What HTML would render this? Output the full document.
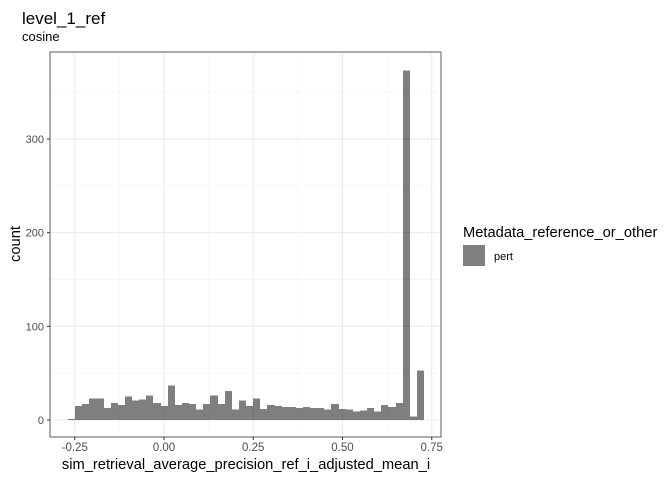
<!DOCTYPE html>
<html><head><meta charset="utf-8"><style>
body{margin:0;background:#fff;font-family:"Liberation Sans",Arial,sans-serif}
</style></head><body>
<svg width="672" height="480" font-family="Liberation Sans, Arial, sans-serif">
<text x="22" y="24" font-size="17" fill="#000">level_1_ref</text>
<text x="22" y="41" font-size="13" fill="#000">cosine</text>
<g id="grid"></g>
<g id="bars" shape-rendering="crispEdges"></g>
<rect x="50" y="52" width="391" height="385" fill="none" stroke="#333" stroke-width="0.8"/>
<g id="axes"></g>
<text x="246" y="469" font-size="14.7" text-anchor="middle" fill="#000">sim_retrieval_average_precision_ref_i_adjusted_mean_i</text>
<text transform="translate(20,244) rotate(-90)" font-size="14.7" text-anchor="middle" fill="#000">count</text>
<text x="463" y="237" font-size="14.7" fill="#000">Metadata_reference_or_other</text>
<rect x="463" y="245" width="22" height="21" fill="#808080"/>
<text x="494" y="260" font-size="11" fill="#000">pert</text>
</svg>
<script>
const binStart = -0.269;
const binWidth = 0.01995;
const counts = [1,15,17,23,23,13,18,16,25,21,22,26,18,15,37,16,18,17,11,17,26,17,31,11,21,15,23,12,16,15,14,14,13,14,13,13,11,17,12,11,9,10,13,9,16,14,18,373,4,53];
const xTicks = [-0.25,0,0.25,0.5,0.75];
const xTickLabels = ["-0.25","0.00","0.25","0.50","0.75"];
const yTicks = [0,100,200,300];
const yTickLabels = ["0","100","200","300"];
const NS="http://www.w3.org/2000/svg";
const X = v => 164 + (v-0)*357;
const Y = v => 420 - v*0.9365;
function mk(tag,attrs,parent){const e=document.createElementNS(NS,tag);for(const k in attrs)e.setAttribute(k,attrs[k]);document.getElementById(parent).appendChild(e);return e;}
for(let i=0;i<xTicks.length-1;i++){const m=(xTicks[i]+xTicks[i+1])/2;const l=mk('line',{x1:X(m),x2:X(m),y1:52,y2:437,stroke:'#f2f2f2','stroke-width':0.6},'grid');

}
for(let i=0;i<yTicks.length;i++){const m=yTicks[i]+50;const l=mk('line',{x1:50,x2:441,y1:Y(m),y2:Y(m),stroke:'#f2f2f2','stroke-width':0.6},'grid');

}
xTicks.forEach((t,i)=>{const l=mk('line',{x1:X(t),x2:X(t),y1:52,y2:437,stroke:'#ebebeb','stroke-width':1.1},'grid');


const tk=mk('line',{x1:X(t),x2:X(t),y1:437,y2:440,stroke:'#333'},'axes');


const tx=mk('text',{x:X(t),y:451,'font-size':11.5,'text-anchor':'middle',fill:'#4d4d4d'},'axes');tx.textContent=xTickLabels[i];

});
yTicks.forEach((t,i)=>{const l=mk('line',{x1:50,x2:441,y1:Y(t),y2:Y(t),stroke:'#ebebeb','stroke-width':1.1},'grid');


const tk=mk('line',{x1:47,x2:50,y1:Y(t),y2:Y(t),stroke:'#333'},'axes');


const tx=mk('text',{x:44,y:Y(t)+4,'font-size':11,'text-anchor':'end',fill:'#4d4d4d'},'axes');tx.textContent=yTickLabels[i];

});
counts.forEach((c,i)=>{const x0=X(binStart+i*binWidth),x1=X(binStart+(i+1)*binWidth);
const r=mk('rect',{x:Math.round(x0),y:Y(c),width:Math.round(x1)-Math.round(x0),height:Y(0)-Y(c),fill:'#000','fill-opacity':0.5},'bars');

});
</script>
</body></html>
